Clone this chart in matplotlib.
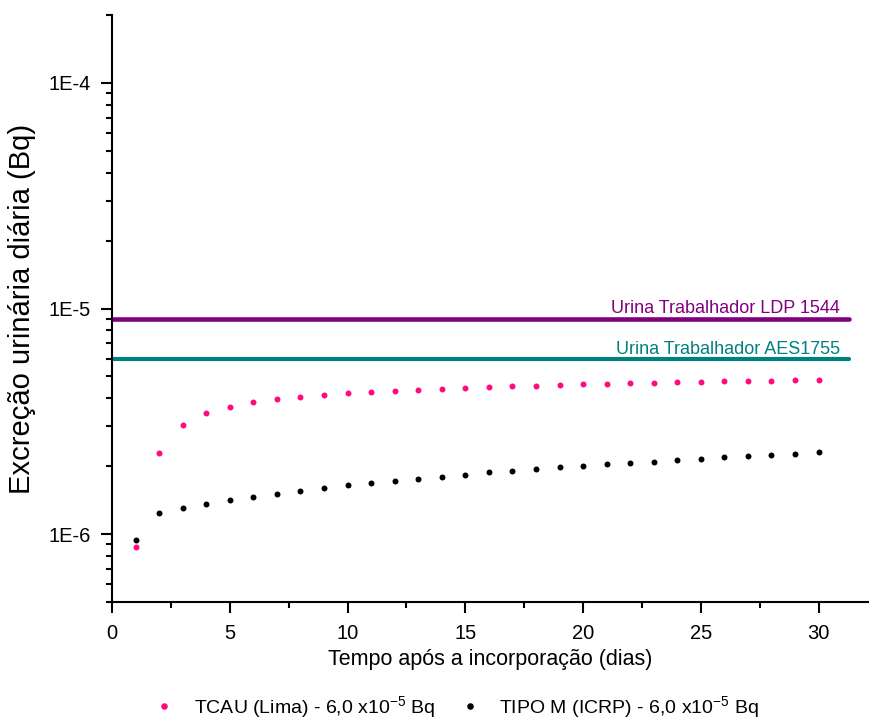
import numpy as np
import matplotlib
matplotlib.use("Agg")
import matplotlib.pyplot as plt
from matplotlib.ticker import LogLocator, MultipleLocator, FuncFormatter, NullFormatter

plt.rcParams['font.family'] = ['Liberation Sans', 'DejaVu Sans']
plt.rcParams['mathtext.fontset'] = 'custom'
plt.rcParams['mathtext.rm'] = 'Liberation Sans'
plt.rcParams['mathtext.it'] = 'Liberation Sans:italic'

# data
dias = np.arange(1, 31)
tcau_lima = [8.8e-7, 2.29e-6, 3.03e-6, 3.43e-6, 3.67e-6, 3.84e-6, 3.96e-6, 4.06e-6,
             4.12e-6, 4.20e-6, 4.27e-6, 4.31e-6, 4.37e-6, 4.40e-6, 4.45e-6, 4.48e-6,
             4.52e-6, 4.55e-6, 4.58e-6, 4.61e-6, 4.65e-6, 4.66e-6, 4.69e-6, 4.71e-6,
             4.74e-6, 4.76e-6, 4.78e-6, 4.79e-6, 4.81e-6, 4.83e-6]
tipo_m = [9.4e-7, 1.243e-6, 1.308e-6, 1.358e-6, 1.41e-6, 1.46e-6, 1.51e-6, 1.56e-6,
          1.606e-6, 1.644e-6, 1.683e-6, 1.724e-6, 1.76e-6, 1.80e-6, 1.83e-6, 1.877e-6,
          1.904e-6, 1.95e-6, 1.975e-6, 2.003e-6, 2.045e-6, 2.073e-6, 2.094e-6, 2.13e-6,
          2.159e-6, 2.188e-6, 2.218e-6, 2.249e-6, 2.272e-6, 2.303e-6]
ldp_1544 = 9.0e-6
aes_1755 = 6.0e-6
linha_x = [-0.15, 31.3]

fig = plt.figure(figsize=(8.69, 7.22), dpi=100)
ax = fig.add_axes([0.1289, 0.1662, 0.870, 0.813])

p1, = ax.plot(dias, tcau_lima, 'o', color='#ff0a80', ms=4.3, mec='none',
              label=r'TCAU (Lima) - 6,0 x10$^{-5}$ Bq')
p2, = ax.plot(dias, tipo_m, 'o', color='black', ms=4.3, mec='none',
              label=r'TIPO M (ICRP) - 6,0 x10$^{-5}$ Bq')

ax.plot(linha_x, [ldp_1544, ldp_1544], color='#800080', lw=3.3, solid_capstyle='round')
ax.plot(linha_x, [aes_1755, aes_1755], color='#008080', lw=3.0, solid_capstyle='round')
ax.annotate('Urina Trabalhador LDP 1544', xy=(30.9, ldp_1544), xytext=(0, 4),
            textcoords='offset points', ha='right', va='baseline',
            color='#800080', fontsize=13)
ax.annotate('Urina Trabalhador AES1755', xy=(30.9, aes_1755), xytext=(0, 3),
            textcoords='offset points', ha='right', va='baseline',
            color='#008080', fontsize=13)

ax.set_yscale('log')
ax.set_ylim(5e-7, 2e-4)
ax.set_xlim(0, 32.1)

ax.yaxis.set_major_locator(LogLocator(base=10, numticks=10))
ax.yaxis.set_minor_locator(LogLocator(base=10, subs=np.arange(2, 10), numticks=20))
ax.yaxis.set_major_formatter(FuncFormatter(lambda v, _: '1E%d' % round(np.log10(v))))
ax.yaxis.set_minor_formatter(NullFormatter())
ax.xaxis.set_major_locator(MultipleLocator(5))
ax.xaxis.set_minor_locator(MultipleLocator(2.5))

for s in ['top', 'right']:
    ax.spines[s].set_visible(False)
for s in ['left', 'bottom']:
    ax.spines[s].set_linewidth(1.5)

ax.tick_params(which='major', length=8, width=1.5, labelsize=14.5)
ax.tick_params(which='minor', length=4.5, width=1.5)
ax.tick_params(axis='x', which='major', pad=8)
ax.tick_params(axis='y', which='major', pad=7.5)

ax.set_xlabel('Tempo após a incorporação (dias)', fontsize=15.5, labelpad=4)
ax.set_ylabel('Excreção urinária diária (Bq)', fontsize=21, labelpad=9)

fig.legend(handles=[p1, p2], loc='center', bbox_to_anchor=(0.5256, 1 - 707 / 722),
           ncol=2, frameon=False, fontsize=14, handlelength=1.0,
           handletextpad=1.0, columnspacing=1.3, numpoints=1, markerscale=1.1,
           borderpad=0.1)

fig.savefig('out.png', dpi=100)
